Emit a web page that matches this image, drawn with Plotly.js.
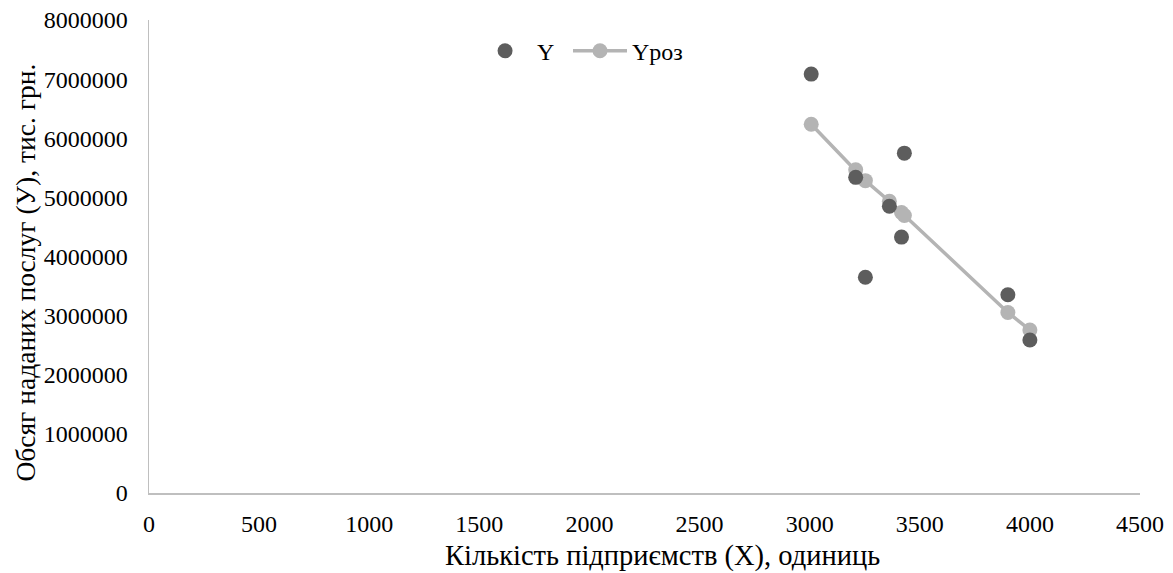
<!DOCTYPE html>
<html>
<head>
<meta charset="utf-8">
<script src="https://cdn.plot.ly/plotly-3.0.1.min.js"></script>
<style>html,body{margin:0;padding:0;background:#fff;}#chart{width:1173px;height:573px;}</style>
</head>
<body>
<div id="chart"></div>
<script>
const xValues = [3007, 3209, 3253, 3362, 3417, 3430, 3900, 4000];
const yActual = [7085000, 5339000, 3650000, 4851000, 4328000, 5748000, 3352000, 2588000];
const yCalc = [6237000, 5468000, 5283000, 4935000, 4744000, 4694000, 3054000, 2757000];
const seriesNames = ['Y', 'Yроз'];
const xTitle = 'Кількість підприємств (X), одиниць';
const yTitle = 'Обсяг наданих послуг (У), тис. грн.';

const font = '"Liberation Serif", "Times New Roman", Times, serif';

const traces = [
  {
    x: xValues, y: yCalc, name: seriesNames[1], type: 'scatter', mode: 'lines+markers',
    line: {color: '#b4b4b4', width: 3.5},
    marker: {color: '#b4b4b4', size: 15},
    legend: 'legend2'
  },
  {
    x: xValues, y: yActual, name: seriesNames[0], type: 'scatter', mode: 'markers',
    marker: {color: '#5d5d5d', size: 15},
    legend: 'legend'
  }
];

const legendBase = {orientation: 'h', y: 0.934, xanchor: 'left', yanchor: 'middle',
  font: {family: font, size: 24, color: '#000'}, itemwidth: 54, bgcolor: 'rgba(0,0,0,0)'};

const layout = {
  width: 1173, height: 573,
  margin: {l: 149, r: 33, t: 20, b: 80},
  paper_bgcolor: '#fff', plot_bgcolor: '#fff',
  font: {family: font, size: 24, color: '#000'},
  showlegend: true,
  legend: Object.assign({}, legendBase, {x: 0.327}),
  legend2: Object.assign({}, legendBase, {x: 0.4228}),
  xaxis: {
    range: [0, 4500], dtick: 500, tick0: 0, showgrid: false, zeroline: false,
    showline: true, linecolor: '#bfbfbf', linewidth: 1.5, ticks: '',
    tickfont: {family: font, size: 24}, ticklabelstandoff: 9
  },
  yaxis: {
    range: [0, 8000000], dtick: 1000000, tick0: 0, showgrid: false, zeroline: false,
    showline: true, linecolor: '#bfbfbf', linewidth: 1.5, ticks: '',
    tickformat: 'd',
    tickfont: {family: font, size: 24}, ticklabelstandoff: 15
  },
  annotations: [
    {text: xTitle, xref: 'paper', yref: 'paper', x: 0.5177, y: -0.1332,
     xanchor: 'center', yanchor: 'middle', showarrow: false,
     font: {family: font, size: 28.5, color: '#000'}},
    {text: yTitle, xref: 'paper', yref: 'paper', x: -0.1241, y: 0.466,
     xanchor: 'center', yanchor: 'middle', showarrow: false, textangle: -90,
     font: {family: font, size: 27.5, color: '#000'}}
  ]
};

Plotly.newPlot('chart', traces, layout, {displayModeBar: false, staticPlot: true});
</script>
</body>
</html>
